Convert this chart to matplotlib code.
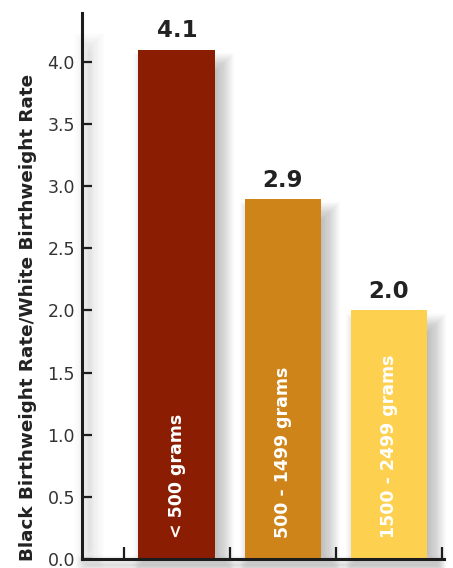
import numpy as np
import matplotlib
matplotlib.use("Agg")
import matplotlib.pyplot as plt
from matplotlib.patches import Rectangle
from matplotlib.transforms import IdentityTransform

# birthweight groups and black/white rate ratio
categories = ["< 500 grams", "500 - 1499 grams", "1500 - 2499 grams"]
ratios = [4.1, 2.9, 2.0]
value_labels = ["4.1", "2.9", "2.0"]
bar_colors = ["#8A1D02", "#CF8419", "#FDD04F"]
y_ticks = [0.0, 0.5, 1.0, 1.5, 2.0, 2.5, 3.0, 3.5, 4.0]

INK = "#1c1c1c"
W, H = 453, 568


def soft_shadow(ax, x0, y0, x1, y1, blur=10, alpha=0.35, steps=10):
    # stacked translucent rects in pixel space, fakes a blurred drop shadow
    for k in range(steps):
        e = blur / 2 - blur * k / steps
        r = Rectangle((x0 - e, y0 - e), (x1 - x0) + 2 * e, (y1 - y0) + 2 * e,
                      transform=IdentityTransform(), facecolor="#555555",
                      edgecolor="none", alpha=alpha / steps, zorder=0.5,
                      clip_on=False)
        ax.add_artist(r)


fig = plt.figure(figsize=(W / 100, H / 100), dpi=100)
ax = fig.add_axes([82 / W, 1 - 559 / H, (444 - 82) / W, (559 - 13) / H])

x = np.arange(len(categories))
bars = ax.bar(x, ratios, width=0.726, color=bar_colors, zorder=2)
ax.set_xlim(-0.896, 2.519)
ax.set_ylim(0, 4.394)

# shadows behind bars (offset right/down)
for b in bars:
    (bx0, by0), (bx1, by1) = ax.transData.transform(
        [(b.get_x(), 0), (b.get_x() + b.get_width(), b.get_height())])
    soft_shadow(ax, bx0 + 8, by0, bx1 + 6, by1 - 16, blur=26, alpha=0.55,
                steps=24)

# faint shadows along the axis lines
(sx, sy) = ax.transAxes.transform((0, 0))
(ex, ey) = ax.transAxes.transform((1, 1))
soft_shadow(ax, sx + 2, sy, sx + 12, ey - 30, blur=20, alpha=0.12, steps=16)
soft_shadow(ax, sx, sy - 10, ex - 4, sy - 2, blur=12, alpha=0.2, steps=12)

for xi, v, lab in zip(x, ratios, value_labels):
    ax.text(xi, v + 0.097, lab, ha="center", va="baseline",
            fontsize=16.5, fontweight="bold", color="#222222",
            family="DejaVu Sans", zorder=3)

for xi, cat in zip(x, categories):
    ax.text(xi, 0.17, cat, rotation=90, ha="center", va="bottom",
            fontsize=12.5, fontweight="bold", color="white",
            family="DejaVu Sans", zorder=3)

for side in ["top", "right"]:
    ax.spines[side].set_visible(False)
for side in ["left", "bottom"]:
    ax.spines[side].set_linewidth(2.2)
    ax.spines[side].set_color(INK)
    ax.spines[side].set_zorder(4)

ax.set_yticks(y_ticks)
ax.set_yticklabels([f"{t:.1f}" for t in y_ticks])
ax.set_xticks(np.arange(-0.5, len(categories), 1.0))
ax.set_xticklabels([])
ax.tick_params(axis="y", direction="in", length=7.5, width=1.6, pad=5,
               labelsize=12.5, labelcolor="#333333", color=INK)
ax.tick_params(axis="x", direction="in", length=8.6, width=1.6, color=INK)

fig.text(28 / W, 1 - 317 / H, "Black Birthweight Rate/White Birthweight Rate",
         rotation=90, ha="center", va="center", fontsize=13.2,
         fontweight="bold", color="#222222", family="DejaVu Sans")

fig.savefig("out.png", dpi=100)
